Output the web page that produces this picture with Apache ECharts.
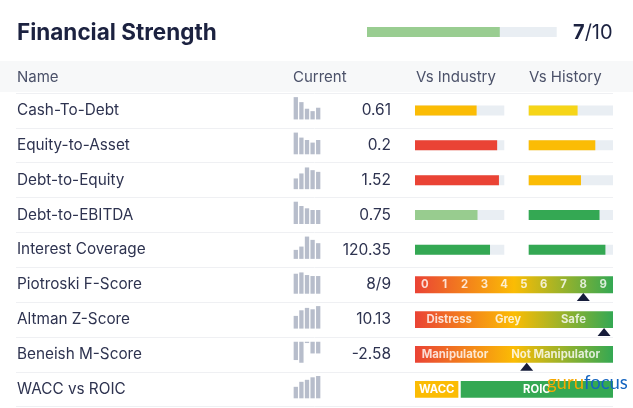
<!DOCTYPE html>
<html><head><meta charset="utf-8">
<script src="https://cdn.jsdelivr.net/npm/echarts@6/dist/echarts.min.js"></script>
<style>html,body{margin:0;padding:0;background:#fff}#c{width:633px;height:408px}</style>
</head><body><div id="c"></div>
<script>
// ---------- data ----------
const chartTitle = 'Financial Strength';
const scoreValue = 7;
const scoreMax = 10;
const headers = ['Name', 'Current', 'Vs Industry', 'Vs History'];
const names = ['Cash-To-Debt', 'Equity-to-Asset', 'Debt-to-Equity', 'Debt-to-EBITDA', 'Interest Coverage',
  'Piotroski F-Score', 'Altman Z-Score', 'Beneish M-Score', 'WACC vs ROIC'];
const currentValues = ['0.61', '0.2', '1.52', '0.75', '120.35', '8/9', '10.13', '-2.58', ''];
const sparkCashToDebt = [22.3, 17.3, 10.7, 8.3, 11.7];
const sparkEquityToAsset = [21.7, 16.7, 14.3, 11.7, 14.3];
const sparkDebtToEquity = [10.7, 15.7, 21.7, 19, 17.3];
const sparkDebtToEbitda = [22.3, 18, 15.7, 14, 14];
const sparkInterestCoverage = [9, 12.3, 22.3, 19, 15.7];
const sparkPiotroski = [20, 21.3, 18.7, 17.7, 17.7];
const sparkAltman = [12.7, 18.3, 20.7, 19.3, 22.7];
const sparkBeneish = [-18.3, -21, -1.3, -11.7, -11.7];
const sparkWacc = [11.5, 16.5, 18.5, 21, 22.3];
const industryValues = [69, 92, 94, 70, 84];
const industryColors = ['#fbbc05', '#ea4335', '#ea4335', '#98cc8f', '#34a853'];
const historyValues = [58, 79, 62, 84, 91];
const historyColors = ['#f6d518', '#fbbc05', '#fbbc05', '#34a853', '#34a853'];
const piotroskiTicks = ['0', '1', '2', '3', '4', '5', '6', '7', '8', '9'];
const piotroskiScore = 8;
const altmanZones = ['Distress', 'Grey', 'Safe'];
const altmanZoneCenters = [17.3, 47, 80];
const altmanMarker = 95.5;
const beneishZones = ['Manipulator', 'Not Manipulator'];
const beneishZoneCenters = [20.2, 71];
const beneishMarker = 56.4;
const waccShare = 21.9;
const roicShare = 76.9;

// ---------- layout ----------
const TOP = 93, ROWH = 34.86, NROWS = names.length, HEIGHT = ROWH * NROWS;
const rowC = i => TOP + ROWH * (i + 0.5);
const rows = names.map((_, i) => i);
const sparks = [sparkCashToDebt, sparkEquityToAsset, sparkDebtToEquity, sparkDebtToEbitda, sparkInterestCoverage,
  sparkPiotroski, sparkAltman, sparkBeneish, sparkWacc];
const FONT = 'Inter';
const gradient = {type: 'linear', x: 0, y: 0, x2: 1, y2: 0,
  colorStops: [{offset: 0, color: '#ea4335'}, {offset: 0.5, color: '#fbbc04'}, {offset: 1, color: '#34a853'}]};

const grid = [], xAxis = [], yAxis = [], series = [];
function addGrid(g, xa, ya) { grid.push(g); const gi = grid.length - 1;
  xAxis.push(Object.assign({gridIndex: gi}, xa)); yAxis.push(Object.assign({gridIndex: gi}, ya)); return gi; }
const rowAxis = extra => Object.assign({type: 'category', data: rows, inverse: true, show: false}, extra || {});
const pad = (arr, start) => rows.map(i => (i >= start && i - start < arr.length) ? arr[i - start] : '-');

// names + separators
addGrid({left: 16, width: 597, top: TOP, height: HEIGHT}, {type: 'value', show: false},
  rowAxis({show: true, axisLine: {show: false}, axisTick: {show: false},
    axisLabel: {inside: true, margin: 1, align: 'left', formatter: v => names[v], color: '#2e3350', fontSize: 15.3, fontFamily: FONT},
    splitLine: {show: true, lineStyle: {color: '#eff0f3', width: 1}}}));
// current values
addGrid({left: 300, width: 91, top: TOP, height: HEIGHT}, {type: 'value', show: false},
  rowAxis({show: true, position: 'right', axisLine: {show: false}, axisTick: {show: false}, splitLine: {show: false},
    axisLabel: {inside: true, margin: 0, align: 'right', formatter: v => currentValues[v], color: '#2e3350', fontSize: 15.5, fontFamily: FONT}}));
// industry
const gInd = addGrid({left: 415, width: 89.3, top: TOP, height: HEIGHT}, {type: 'value', min: 0, max: 100, show: false}, rowAxis());
series.push({type: 'bar', xAxisIndex: gInd, yAxisIndex: gInd, barWidth: 10, showBackground: true,
  backgroundStyle: {color: '#e9eef3'}, silent: true,
  data: industryValues.map((v, i) => ({value: v, itemStyle: {color: industryColors[i]}}))});
// history
const gHis = addGrid({left: 528.7, width: 84.3, top: TOP, height: HEIGHT}, {type: 'value', min: 0, max: 100, show: false}, rowAxis());
series.push({type: 'bar', xAxisIndex: gHis, yAxisIndex: gHis, barWidth: 10, showBackground: true,
  backgroundStyle: {color: '#e9eef3'}, silent: true,
  data: historyValues.map((v, i) => ({value: v, itemStyle: {color: historyColors[i]}}))});
// wide gauges (all in one stack so they share the row centre)
const gW = addGrid({left: 415, width: 198, top: TOP, height: HEIGHT}, {type: 'value', min: 0, max: 100, show: false}, rowAxis());
const BW = 16.8;
series.push({type: 'bar', stack: 'w', xAxisIndex: gW, yAxisIndex: gW, barWidth: BW, silent: true,
  itemStyle: {color: gradient}, data: pad([100, 100, 100], 5)});
const LFS = 11.3;
const lbl = {show: true, position: 'inside', color: '#fff', fontWeight: 'bold', fontSize: LFS, fontFamily: FONT, formatter: p => p.name};
const labelScatter = (arr, centers, row) => ({type: 'scatter', xAxisIndex: gW, yAxisIndex: gW, symbolSize: 1, silent: true,
  itemStyle: {color: 'rgba(0,0,0,0)'}, z: 5, label: lbl,
  data: arr.map((t, i) => ({name: t, value: [centers[i], row]}))});
series.push(labelScatter(piotroskiTicks, piotroskiTicks.map((_, i) => i * 10 + 5), 5));
series.push(labelScatter(altmanZones, altmanZoneCenters, 6));
series.push(labelScatter(beneishZones, beneishZoneCenters, 7));
series.push({type: 'scatter', xAxisIndex: gW, yAxisIndex: gW, symbol: 'triangle', symbolSize: [13, 8], symbolOffset: [0, 12.3],
  silent: true, itemStyle: {color: '#161c3a', opacity: 1}, z: 6,
  data: [[piotroskiScore * 10 + 5, 5], [altmanMarker, 6], [beneishMarker, 7]]});
series.push({type: 'bar', stack: 'w', xAxisIndex: gW, yAxisIndex: gW, barWidth: BW, silent: true, itemStyle: {color: '#fbbc04'},
  label: {show: true, position: 'inside', color: '#fff', fontWeight: 'bold', fontSize: LFS, fontFamily: FONT, formatter: 'WACC'},
  data: pad([waccShare], 8)});
series.push({type: 'bar', stack: 'w', xAxisIndex: gW, yAxisIndex: gW, barWidth: BW, silent: true, itemStyle: {color: 'rgba(0,0,0,0)'},
  data: pad([100 - waccShare - roicShare], 8)});
series.push({type: 'bar', stack: 'w', xAxisIndex: gW, yAxisIndex: gW, barWidth: BW, silent: true, itemStyle: {color: '#34a853'},
  label: {show: true, position: 'inside', color: '#fff', fontWeight: 'bold', fontSize: LFS, fontFamily: FONT, formatter: 'ROIC'},
  data: pad([roicShare], 8)});
// sparklines
sparks.forEach((d, i) => {
  const neg = d.every(v => v <= 0);
  const top = neg ? rowC(i) - 12.7 : rowC(i) + 9 - 22.5;
  const gi = addGrid({left: 293, width: 28, top: top, height: 22.5},
    {type: 'category', data: d.map((_, k) => k), show: false},
    neg ? {type: 'value', min: -22.5, max: 0, show: false} : {type: 'value', min: 0, max: 22.5, show: false});
  series.push({type: 'bar', xAxisIndex: gi, yAxisIndex: gi, barWidth: 4.3, silent: true, itemStyle: {color: '#b7bdcb'}, data: d});
});
// score bar
const gS = addGrid({left: 367, width: 189.7, top: 27, height: 10}, {type: 'value', min: 0, max: scoreMax, show: false},
  {type: 'category', data: ['score'], show: false});
series.push({type: 'bar', xAxisIndex: gS, yAxisIndex: gS, barWidth: 10, showBackground: true, silent: true,
  backgroundStyle: {color: '#e9eef3'}, itemStyle: {color: '#99cd91'}, data: [scoreValue]});

const headerX = [17, 293, 416, 529];
const graphic = [
  {type: 'rect', shape: {x: 0, y: 61, width: 633, height: 31}, style: {fill: '#f7f8f9'}, z: -10},
  {type: 'text', x: 17, y: 33.5, style: {text: chartTitle, fontSize: 22.5, fontWeight: 'bold', fontFamily: FONT, fill: '#1c2240', textVerticalAlign: 'middle'}},
  {type: 'text', x: 573, y: 33, style: {text: '{b|' + scoreValue + '}{n|/' + scoreMax + '}', textVerticalAlign: 'middle',
    rich: {b: {fontSize: 20, fontWeight: 'bold', fontFamily: FONT, fill: '#1c2240'},
           n: {fontSize: 20, fontFamily: FONT, fill: '#1c2240'}}}},
  ...headers.map((h, i) => ({type: 'text', x: headerX[i], y: 77, style: {text: h, fontSize: 15, fontFamily: FONT, fill: '#4b5169', textVerticalAlign: 'middle'}})),
  {type: 'text', x: 547, y: 383, z: 100, style: {text: '{g|guru}{f|focus}', textVerticalAlign: 'middle',
    rich: {g: {fill: '#f6a800', fontSize: 18.5, fontFamily: 'Lato'}, f: {fill: '#1565c0', fontSize: 18.5, fontFamily: 'Lato'}}}}
];

const chart = echarts.init(document.getElementById('c'), null, {renderer: 'canvas'});
chart.setOption({animation: false, grid, xAxis, yAxis, series, graphic});
</script></body></html>
